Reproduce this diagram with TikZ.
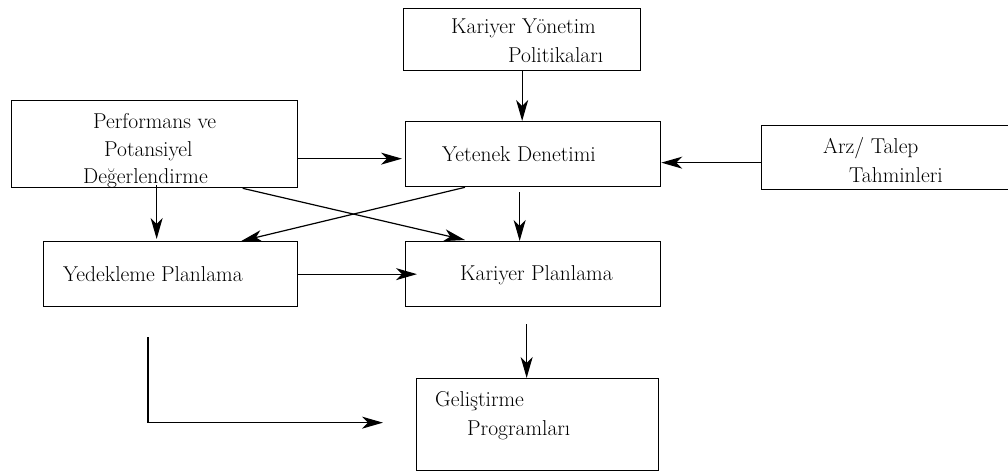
\documentclass[tikz,border=0pt]{standalone}
\usetikzlibrary{arrows.meta}

\tikzset{
  box/.style={draw, line width=1.3pt, rectangle, inner sep=0pt, anchor=north west},
  lbl/.style={anchor=base west, inner sep=0pt, font=\fontsize{21.5}{26}\selectfont},
  arr/.style={line width=1.2pt, -{Stealth[length=21pt,width=12pt,inset=6pt]}},
}

\begin{document}
\begin{tikzpicture}[x=1pt, y=-1pt]
  \clip (0,0) rectangle (1008,472);

  % boxes (the forecast box runs on past the right border)
  \node[box, minimum width=237pt, minimum height=62pt] (kyp)  at (403,8)   {};
  \node[box, minimum width=286pt, minimum height=87pt] (perf) at (11,100)  {};
  \node[box, minimum width=255pt, minimum height=65pt] (yd)   at (405,121) {};
  \node[box, minimum width=260pt, minimum height=64pt] (arz)  at (761,125) {};
  \node[box, minimum width=254pt, minimum height=65pt] (yed)  at (43,241)  {};
  \node[box, minimum width=255pt, minimum height=65pt] (kp)   at (405,241) {};
  \node[box, minimum width=242pt, minimum height=92pt] (gel)  at (416,378) {};

  % labels
  \node[lbl] (kypA)  at (451,33)  {Kariyer Yönetim};
  \node[lbl] (kypB)  at (508,62)  {Politikaları};
  \node[lbl] (perfA) at (93,128)  {Performans ve};
  \node[lbl] (perfB) at (104,156) {Potansiyel};
  \node[lbl] (perfC) at (83,183)  {Değerlendirme};
  \node[lbl] (ydA)   at (442,161) {Yetenek Denetimi};
  \node[lbl] (arzA)  at (823,153) {Arz/ Talep};
  \node[lbl] (arzB)  at (849,182) {Tahminleri};
  \node[lbl] (yedA)  at (63,281)  {Yedekleme Planlama};
  \node[lbl] (kpA)   at (460,280) {Kariyer Planlama};
  \node[lbl] (gelA)  at (435,406) {Geliştirme};
  \node[lbl] (gelB)  at (467,435) {Programları};

  % helper points on the box sides
  \coordinate (p1) at ([yshift=-4.5pt]yd.west);
  \coordinate (p2) at ([yshift=-8.5pt]yd.east);
  \coordinate (p3) at ([xshift=2pt,yshift=3pt]perf.south);
  \coordinate (p4) at ([xshift=-13.5pt,yshift=-5pt]yd.south);
  \coordinate (p5) at ([xshift=-6.5pt,yshift=-17pt]kp.south);
  \coordinate (p6) at (148,337);

  % connectors
  \draw[arr] (kyp.south) -- (kyp.south |- yd.north);
  \draw[arr] (p1 -| perf.east) -- ([xshift=-3pt]p1);
  \draw[arr] (p2 -| arz.west) -- (p2);
  \draw[arr] (p3) -- ([yshift=2pt]p3 |- yed.north);
  \draw[arr] ([xshift=88pt]perf.south) -- ([xshift=60pt,yshift=1pt]kp.north west);
  \draw[arr] ([xshift=60pt]yd.south west) -- ([xshift=-57pt]yed.north east);
  \draw[arr] (p4) -- (p4 |- kp.north);
  \draw[arr] (yed.east) -- ([xshift=12pt]kp.west);
  \draw[arr] (p5) -- (p5 |- gel.north);
  \draw[arr] (p6) |- ([xshift=-33pt,yshift=2pt]gel.west);
\end{tikzpicture}
\end{document}
